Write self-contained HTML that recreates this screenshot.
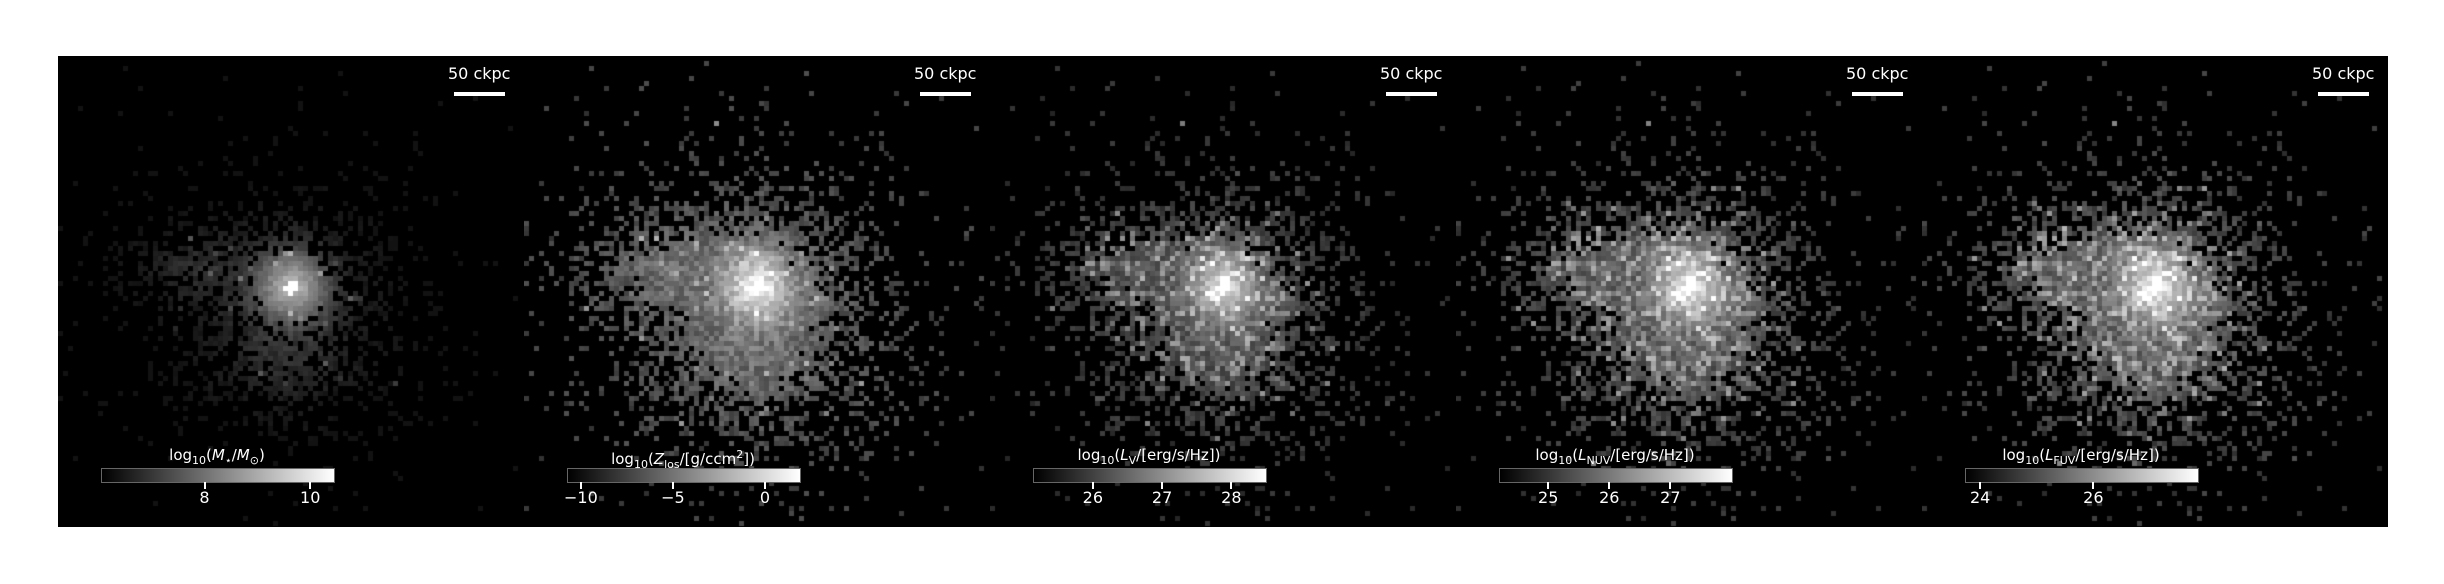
<!DOCTYPE html>
<html><head><meta charset="utf-8"><style>
html,body{margin:0;padding:0;background:#fff;width:2444px;height:584px;overflow:hidden}
.panel{position:absolute;top:56px;width:466px;height:471px;background:#000;overflow:hidden}
canvas{position:absolute;left:0;top:0}
.txt{position:absolute;color:#fff;font-family:"DejaVu Sans","Liberation Sans",sans-serif;font-size:16px;white-space:nowrap;line-height:18px}
.bar{position:absolute;background:#fff}
.cb{position:absolute;left:43px;top:412px;width:232px;height:13px;border:1px solid #666;background:linear-gradient(to right,#000,#fff)}
.tick{position:absolute;width:2px;height:7px;background:#fff;top:426px}
</style></head><body>
<div id="fig"></div>
<script>
const panelLefts=[58,524,990,1456,1922];
const cbLabels=['log<sub style="font-size:11px">10</sub>(<i>M</i><sub style="font-size:11px">⋆</sub>/<i>M</i><sub style="font-size:11px">⊙</sub>)',
'log<sub style="font-size:11px">10</sub>(<i>Z</i><sub style="font-size:11px">los</sub>/[g/ccm<sup style="font-size:11px">2</sup>])',
'log<sub style="font-size:11px">10</sub>(<i>L</i><sub style="font-size:11px">V</sub>/[erg/s/Hz])',
'log<sub style="font-size:11px">10</sub>(<i>L</i><sub style="font-size:11px">NUV</sub>/[erg/s/Hz])',
'log<sub style="font-size:11px">10</sub>(<i>L</i><sub style="font-size:11px">FUV</sub>/[erg/s/Hz])'];
const cbMin=[6.06,-10.7,25.15,24.21,23.75];
const cbMax=[10.45,1.9,28.5,28.01,27.85];
const cbTicks=[[8,10],[-10,-5,0],[26,27,28],[25,26,27],[24,26]];
const fillLevel=[0.17,0.4,0.3,0.34,0.36];
const speckle=[0.03,0.05,0.35,0.45,0.45];
const spread=[0.95,1.1,1.05,1.1,1.1];
const density=[0.9,1.2,1.15,1.2,1.2];

function rnd(i,j,k){let h=(i*374761393+j*668265263+k*2147483647)|0;h=(h^(h>>>13))*1274126177|0;h=h^(h>>>16);return (h>>>0)/4294967296;}
const fig=document.getElementById('fig');
panelLefts.forEach((L,p)=>{
  const d=document.createElement('div');d.className='panel';d.style.left=L+'px';
  
  
  fig.appendChild(d);
  const c=document.createElement('canvas');c.width=466;c.height=471;
  
  
  d.appendChild(c);
  const ctx=c.getContext('2d');ctx.fillStyle='#000';ctx.fillRect(0,0,466,471);
  const cs=5,cx=234,cy=231,S=spread[p];
  for(let gy=0;gy<95;gy++)for(let gx=0;gx<94;gx++){
    const x=gx*cs+2.5,y=gy*cs+2.5;
    const dx=(x-cx),dy=(y-cy);
    const r=Math.sqrt(dx*dx+dy*dy);
    const ax=x-(cx-100),ay=y-(cy-20),ra=Math.sqrt(ax*ax*0.6+ay*ay*1.5);
    const bx=x-(cx-5),by=y-(cy+75),rb=Math.sqrt(bx*bx*0.5+by*by*1.0);
    let dens=Math.exp(-Math.pow(r/(70*S),1.5))+0.7*Math.exp(-Math.pow(ra/(45*S),1.5))+0.6*Math.exp(-Math.pow(rb/(60*S),1.5));
    let prob=Math.min(1,density[p]*Math.pow(dens,0.9))+0.007;
    if(r<35)prob=1;
    const u=rnd(gx,gy,1);
    if(u>prob)continue;
    let core=Math.exp(-r*r/(2*24*24));
    let v=fillLevel[p]*(0.65+0.5*Math.min(1,dens))*(0.7+0.5*rnd(gx,gy,2))+core*0.5;
    if(rnd(gx,gy,3)<speckle[p]*Math.min(1,dens*1.5))v+=0.35*rnd(gx,gy,4);
    if(r<7)v=1;
    if(p==0)v=v*(0.5+0.5*Math.min(1,dens*1.2));
    v=Math.max(0.07,Math.min(1,v));
    const g=Math.round(v*255);
    ctx.fillStyle='rgb('+g+','+g+','+g+')';
    ctx.fillRect(gx*cs,gy*cs,cs,cs);
  }
  const st=document.createElement('div');st.className='txt';st.textContent='50 ckpc';
  st.style.left='390px';st.style.top='9px';
  
  
  d.appendChild(st);
  const sb=document.createElement('div');sb.className='bar';
  sb.style.left='396px';sb.style.top='36px';sb.style.width='51px';sb.style.height='4px';
  
  
  d.appendChild(sb);
  const lb=document.createElement('div');lb.className='txt';lb.innerHTML=cbLabels[p];
  lb.style.left='159px';lb.style.top='390px';lb.style.transform='translateX(-50%)';lb.style.fontSize='15px';
  
  
  d.appendChild(lb);
  const cb=document.createElement('div');cb.className='cb';
  
  
  d.appendChild(cb);
  const sx=v=>44+(v-cbMin[p])/(cbMax[p]-cbMin[p])*232;
  cbTicks[p].forEach(t=>{
    const x=sx(t);
    const tk=document.createElement('div');tk.className='tick';tk.style.left=(x-1)+'px';
    
    
    d.appendChild(tk);
    const tl=document.createElement('div');tl.className='txt';tl.textContent=String(t).replace('-','\u2212');
    tl.style.left=x+'px';tl.style.top='433px';tl.style.transform='translateX(-50%)';
    
    
    d.appendChild(tl);
  });
});
</script>
</body></html>
